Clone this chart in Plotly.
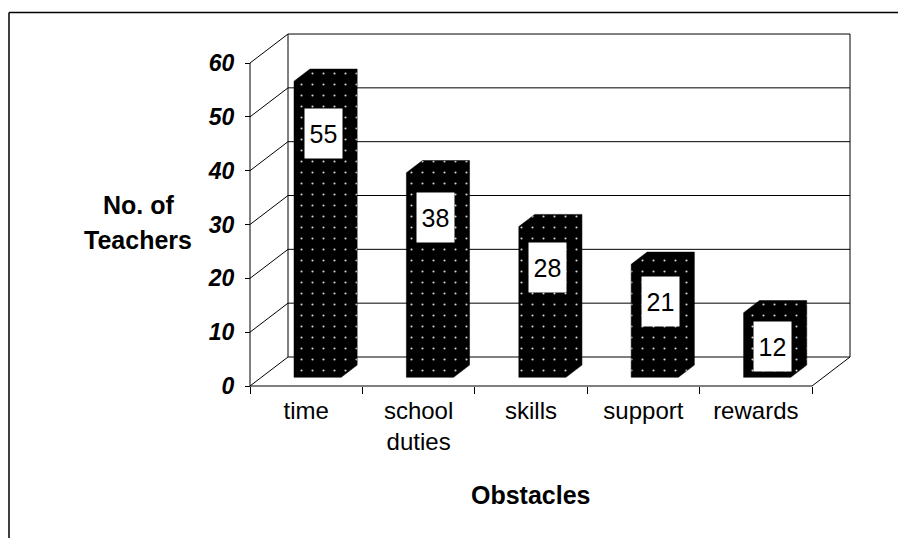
import plotly.graph_objects as go

# --- data -------------------------------------------------------------
categories = ["time", "school<br>duties", "skills", "support", "rewards"]
teachers = [55, 38, 28, 21, 12]
y_ticks = [0, 10, 20, 30, 40, 50, 60]

# --- geometry of the pseudo-3D box (pixels) ---------------------------
W, H = 898, 538
ORIGIN_X, ORIGIN_Y = 250, 386        # front-left corner of the floor
PX_CAT = 112.4                       # pixels per category slot
PX_UNIT = 5.383                      # pixels per teacher
DEPTH_PX_X, DEPTH_PX_Y = 38, 29      # receding depth of the box
PLOT_L, PLOT_R, PLOT_T, PLOT_B = 230, 860, 24, 396

DX = DEPTH_PX_X / PX_CAT             # depth in category units
DY = DEPTH_PX_Y / PX_UNIT            # depth in value units
N = len(categories)
YMAX = y_ticks[-1]

FONT = "Liberation Sans, Arial, sans-serif"


def paper_x(px):
    return (px - PLOT_L) / (PLOT_R - PLOT_L)


def paper_y(py):
    return (PLOT_B - py) / (PLOT_B - PLOT_T)


fig = go.Figure()


def seg(xs, ys, width=1, color="black"):
    fig.add_trace(go.Scatter(x=xs, y=ys, mode="lines", hoverinfo="skip",
                             line=dict(color=color, width=width),
                             showlegend=False))


# back wall gridlines and left-wall diagonals
for v in y_ticks:
    seg([DX, N + DX], [v + DY, v + DY])
    seg([0, DX], [v, v + DY])
# back wall vertical edges
seg([DX, DX], [DY, YMAX + DY])
seg([N + DX, N + DX], [DY, YMAX + DY])
# floor edges
seg([0, N], [0, 0])
seg([N, N + DX], [0, DY])
# front value axis
seg([0, 0], [0, YMAX])

# bars: front face + top + side as one dotted black prism outline
F0, F1 = 0.30, 0.72          # depth span of each bar
B0, B1 = 0.29, 0.71          # width span inside each slot
for i, v in enumerate(teachers):
    xl, xr = i + B0, i + B1
    xs = [xl + F0 * DX, xl + F0 * DX, xl + F1 * DX, xr + F1 * DX,
          xr + F1 * DX, xr + F0 * DX, xl + F0 * DX]
    ys = [F0 * DY, v + F0 * DY, v + F1 * DY, v + F1 * DY,
          F1 * DY, F0 * DY, F0 * DY]
    fig.add_trace(go.Scatter(
        x=xs, y=ys, mode="lines", fill="toself", hoverinfo="skip",
        line=dict(color="black", width=0.5), fillcolor="black",
        fillpattern=dict(shape=".", size=11, solidity=0.03,
                         fgcolor="#d4d4d4", bgcolor="black",
                         fillmode="replace"),
        showlegend=False))

# value labels in white boxes, a little below each bar top
for i, v in enumerate(teachers):
    fig.add_annotation(
        x=i + 0.65, y=0.92 * v - 3.7, xref="x", yref="y",
        text=str(v), showarrow=False,
        font=dict(family=FONT, size=25, color="black"),
        bgcolor="white", width=37, height=49, borderpad=0,
        xanchor="center", yanchor="middle")

# axis titles
TITLE_FONT = dict(family=FONT, size=25, color="black")
fig.add_annotation(x=paper_x(138), y=paper_y(205), xref="paper", yref="paper",
                   text="<b>No. of</b>", showarrow=False, font=TITLE_FONT,
                   xanchor="center", yanchor="middle")
fig.add_annotation(x=paper_x(138), y=paper_y(240), xref="paper", yref="paper",
                   text="<b>Teachers</b>", showarrow=False, font=TITLE_FONT,
                   xanchor="center", yanchor="middle")
fig.add_annotation(x=paper_x(531), y=paper_y(495), xref="paper", yref="paper",
                   text="<b>Obstacles</b>", showarrow=False, font=TITLE_FONT,
                   xanchor="center", yanchor="middle")

# outer chart frame (top and left edges)
fig.add_shape(type="line", xref="paper", yref="paper",
              x0=paper_x(9), x1=paper_x(W + 5), y0=paper_y(12.5), y1=paper_y(12.5),
              line=dict(color="black", width=1.5))
fig.add_shape(type="line", xref="paper", yref="paper",
              x0=paper_x(9), x1=paper_x(9), y0=paper_y(12.5), y1=paper_y(H + 5),
              line=dict(color="black", width=1.5))

fig.update_layout(
    width=W, height=H,
    margin=dict(l=PLOT_L, r=W - PLOT_R, t=PLOT_T, b=H - PLOT_B, pad=0),
    paper_bgcolor="white", plot_bgcolor="white",
    showlegend=False,
    xaxis=dict(
        range=[(PLOT_L - ORIGIN_X) / PX_CAT, (PLOT_R - ORIGIN_X) / PX_CAT],
        anchor="free", position=paper_y(ORIGIN_Y),
        tickmode="array", tickvals=[i + 0.5 for i in range(N)],
        ticktext=categories, ticks="", ticklen=0,
        tickfont=dict(family=FONT, size=24, color="black"),
        minor=dict(tickmode="array", tickvals=list(range(N + 1)),
                   ticks="outside", ticklen=7, tickwidth=1, tickcolor="black"),
        showgrid=False, zeroline=False, showline=False,
        ticklabelstandoff=8,
    ),
    yaxis=dict(
        range=[(ORIGIN_Y - PLOT_B) / PX_UNIT, (ORIGIN_Y - PLOT_T) / PX_UNIT],
        anchor="free", position=paper_x(ORIGIN_X),
        tickmode="array", tickvals=y_ticks,
        ticks="outside", ticklen=5, tickwidth=1, tickcolor="black",
        tickfont=dict(family=FONT, size=23, color="black",
                      weight="bold", style="italic"),
        showgrid=False, zeroline=False, showline=False,
        ticklabelstandoff=6,
    ),
)

fig.write_html("out.html")
